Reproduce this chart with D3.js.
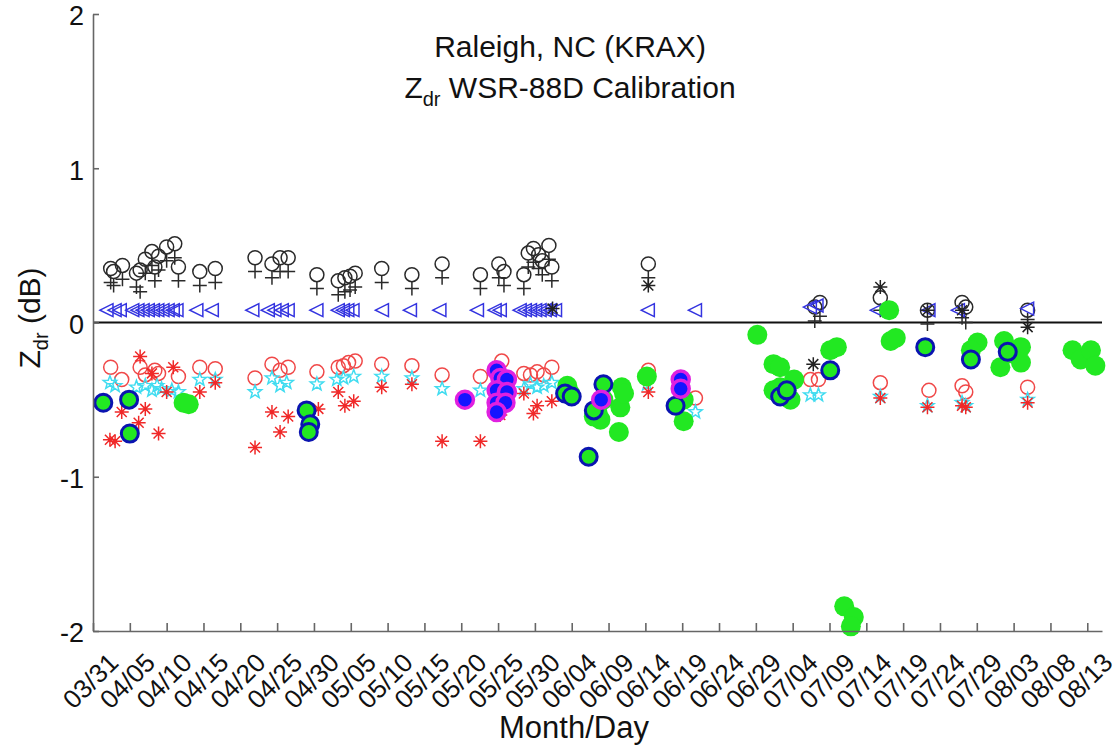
<!DOCTYPE html>
<html lang="en">
<head>
<meta charset="UTF-8">
<title>Raleigh, NC (KRAX) Zdr WSR-88D Calibration</title>
<style>
  body { margin: 0; background: #fff; }
  svg { display: block; font-family: 'Liberation Sans', Arial, sans-serif; }
</style>
<script src="https://d3js.org/d3.v7.min.js"></script>
</head>
<body>
<svg id="chart" width="1118" height="747"></svg>
<script>
// x values are days after 03/31 (fractional = time of day)
var tickDays = [0,5,10,15,20,25,30,35,40,45,50,55,60,65,70,75,80,85,90,95,100,105,110,115,120,125,130,135];
var tickLabels = ['03/31','04/05','04/10','04/15','04/20','04/25','04/30','05/05','05/10','05/15','05/20','05/25','05/30',
                  '06/04','06/09','06/14','06/19','06/24','06/29','07/04','07/09','07/14','07/19','07/24','07/29','08/03','08/08','08/13'];

var blackCircles = [[2.4,0.35],[2.8,0.33],[4.0,0.37],[5.9,0.32],[6.4,0.34],[7.1,0.41],[8.0,0.46],[8.4,0.36],[8.9,0.43],
  [10.0,0.49],[11.1,0.51],[11.6,0.36],[14.5,0.33],[16.6,0.35],[22.0,0.42],[24.3,0.38],[25.4,0.42],[26.5,0.42],
  [30.4,0.31],[33.3,0.27],[34.2,0.29],[34.9,0.30],[35.6,0.32],[39.2,0.35],[43.3,0.31],[47.4,0.38],[52.6,0.31],
  [55.1,0.38],[55.8,0.33],[58.5,0.31],[59.1,0.45],[59.8,0.48],[60.5,0.44],[61.0,0.40],[61.9,0.50],[62.3,0.36],
  [75.4,0.38],[98.0,0.10],[98.7,0.13],[106.9,0.16],[113.3,0.08],[118.0,0.13],[118.5,0.10],[126.9,0.08]];

var blackPlus = [[2.4,0.26],[2.8,0.24],[4.0,0.28],[5.9,0.23],[6.4,0.20],[7.1,0.32],[8.0,0.37],[8.4,0.27],[8.9,0.34],
  [10.0,0.40],[11.1,0.42],[11.6,0.27],[14.5,0.24],[16.6,0.26],[22.0,0.33],[24.3,0.29],[25.4,0.33],[26.5,0.33],
  [30.4,0.22],[33.3,0.18],[34.2,0.20],[34.9,0.21],[35.6,0.23],[39.2,0.26],[43.3,0.22],[47.4,0.29],[52.6,0.22],
  [55.1,0.29],[55.8,0.24],[58.5,0.22],[59.1,0.36],[59.8,0.39],[60.5,0.35],[61.0,0.31],[61.9,0.41],[62.3,0.27],
  [75.4,0.29],[98.0,0.01],[98.7,0.04],[106.9,0.08],[113.3,-0.01],[118.0,0.03],[118.5,0.00],[126.9,0.02]];

var blueTriangles = [[1.9,0.08],[3.0,0.08],[3.7,0.08],[5.4,0.08],[6.1,0.08],[6.8,0.08],[7.5,0.08],[8.2,0.08],[8.8,0.08],
  [9.5,0.08],[10.2,0.08],[10.9,0.08],[11.4,0.08],[14.1,0.08],[16.2,0.08],[21.7,0.08],[23.8,0.08],[24.7,0.08],[25.7,0.08],
  [26.5,0.08],[30.4,0.08],[33.3,0.08],[34.0,0.08],[34.6,0.08],[35.3,0.08],[39.3,0.08],[43.1,0.08],[47.1,0.08],[52.2,0.08],
  [54.6,0.08],[55.3,0.08],[58.0,0.08],[58.7,0.08],[59.4,0.08],[60.1,0.08],[60.7,0.08],[61.4,0.08],[62.1,0.08],[62.8,0.08],
  [75.4,0.08],[81.8,0.08],[97.4,0.10],[98.3,0.11],[106.5,0.08],[113.5,0.08],[117.5,0.08],[126.9,0.09]];

var blackAsterisks = [[62.4,0.09],[75.4,0.24],[97.8,-0.27],[106.9,0.23],[113.3,0.08],[118.0,0.08],[126.9,-0.03]];

var redCircles = [[2.4,-0.29],[3.9,-0.37],[6.4,-0.29],[7.1,-0.34],[8.4,-0.31],[8.9,-0.33],[11.6,-0.35],[14.5,-0.29],
  [16.6,-0.30],[22.0,-0.36],[24.3,-0.27],[25.4,-0.31],[26.5,-0.29],[30.4,-0.32],[33.3,-0.29],[34.0,-0.28],[34.7,-0.26],
  [35.6,-0.25],[39.2,-0.27],[43.3,-0.28],[47.4,-0.34],[52.6,-0.35],[55.5,-0.25],[58.5,-0.33],[59.4,-0.34],[60.3,-0.32],
  [61.2,-0.34],[62.3,-0.29],[75.4,-0.31],[81.8,-0.49],[97.4,-0.37],[98.5,-0.37],[106.9,-0.39],[113.5,-0.44],
  [118.0,-0.41],[118.5,-0.45],[126.9,-0.42]];

var cyanStars = [[2.3,-0.39],[3.0,-0.41],[5.9,-0.42],[7.1,-0.41],[8.0,-0.44],[8.7,-0.41],[9.3,-0.43],[10.7,-0.44],
  [11.6,-0.45],[14.5,-0.37],[16.6,-0.37],[22.0,-0.45],[24.3,-0.36],[25.4,-0.41],[26.3,-0.39],[30.4,-0.40],[33.1,-0.37],
  [34.0,-0.36],[35.4,-0.35],[39.2,-0.35],[43.3,-0.36],[47.4,-0.43],[52.6,-0.44],[55.5,-0.34],[58.5,-0.43],[59.4,-0.40],
  [60.3,-0.42],[61.2,-0.41],[62.3,-0.39],[75.2,-0.40],[81.8,-0.58],[97.4,-0.47],[98.5,-0.47],[106.9,-0.48],
  [113.3,-0.54],[118.0,-0.52],[118.5,-0.54],[126.9,-0.50]];

var redAsterisks = [[2.3,-0.76],[3.0,-0.77],[3.9,-0.58],[6.2,-0.65],[6.4,-0.22],[7.1,-0.56],[8.0,-0.33],[8.9,-0.72],
  [10.0,-0.45],[10.9,-0.29],[14.5,-0.45],[16.6,-0.39],[22.0,-0.81],[24.3,-0.58],[25.4,-0.71],[26.5,-0.61],[30.6,-0.56],
  [33.3,-0.45],[34.2,-0.54],[35.4,-0.51],[39.2,-0.42],[43.3,-0.40],[47.4,-0.77],[52.6,-0.77],[55.3,-0.60],[58.5,-0.46],
  [59.8,-0.59],[60.3,-0.54],[62.3,-0.51],[75.4,-0.45],[106.9,-0.49],[113.3,-0.55],[118.0,-0.54],[118.5,-0.55],[126.9,-0.52]];

var greenDots = [[12.3,-0.52],[13.0,-0.53],[64.4,-0.41],[64.8,-0.46],[68.0,-0.61],[68.5,-0.58],[68.9,-0.63],[69.3,-0.50],
  [71.4,-0.71],[71.6,-0.55],[71.8,-0.42],[72.1,-0.46],[75.2,-0.35],[80.2,-0.50],[80.2,-0.64],[90.2,-0.08],[92.4,-0.27],
  [93.3,-0.29],[95.2,-0.37],[92.4,-0.44],[94.7,-0.50],[93.3,-0.42],[100.1,-0.18],[101.0,-0.16],[102.0,-1.84],
  [103.3,-1.91],[102.9,-1.97],[108.1,0.08],[108.3,-0.12],[109.0,-0.10],[120.1,-0.13],[119.2,-0.18],[123.7,-0.12],
  [126.0,-0.16],[123.2,-0.29],[126.0,-0.26],[124.5,-0.20],[133.0,-0.18],[134.1,-0.24],[135.5,-0.18],[136.1,-0.28]];

var blueRingDots = [[1.4,-0.52],[4.9,-0.50],[5.0,-0.72],[29.0,-0.57],[29.5,-0.66],[29.3,-0.71],[64.1,-0.46],[65.0,-0.48],
  [69.3,-0.40],[68.0,-0.57],[67.3,-0.87],[79.1,-0.54],[93.3,-0.48],[94.2,-0.44],[100.1,-0.31],[113.0,-0.16],
  [119.2,-0.24],[124.2,-0.19]];

var magentaDots = [[50.5,-0.50],[54.8,-0.31],[55.3,-0.36],[56.2,-0.37],[54.8,-0.44],[56.2,-0.45],[54.8,-0.52],[56.0,-0.52],
  [54.8,-0.58],[69.0,-0.50],[79.8,-0.37],[79.8,-0.43]];

var svg = d3.select('#chart');
var plotLeft = 93, plotRight = 1102, plotTop = 14, plotBottom = 631;

var x = d3.scaleLinear().domain([0, 137]).range([plotLeft, plotRight]);
var y = d3.scaleLinear().domain([-2, 2]).range([plotBottom, plotTop]);

// marker shapes (MATLAB style)
var shapes = {
  plus: 'M-7,0H7M0,-7V7',
  triangle: 'M-7,0L6,-6.5L6,6.5Z',
  asterisk: 'M-7,0H7M0,-7V7M-5,-5L5,5M-5,5L5,-5',
  star: (function () {
    var p = [];
    for (var i = 0; i < 10; i++) {
      var r = i % 2 === 0 ? 7 : 2.9;
      var a = -Math.PI / 2 + i * Math.PI / 5;
      p.push((i ? 'L' : 'M') + (r * Math.cos(a)).toFixed(2) + ',' + (r * Math.sin(a)).toFixed(2));
    }
    return p.join('') + 'Z';
  })()
};

function drawPaths(data, d, stroke, width) {
  svg.append('g').selectAll('path').data(data).enter().append('path')
    .attr('transform', p => 'translate(' + x(p[0]) + ',' + y(p[1]) + ')')
    .attr('d', d)
    .attr('fill', 'none')
    .attr('stroke', stroke)
    .attr('stroke-width', width);
}

function drawCircles(data, r, fill, stroke, width) {
  svg.append('g').selectAll('circle').data(data).enter().append('circle')
    .attr('cx', p => x(p[0]))
    .attr('cy', p => y(p[1]))
    .attr('r', r)
    .attr('fill', fill)
    .attr('stroke', stroke)
    .attr('stroke-width', width);
}

// zero line
svg.append('line')
  .attr('x1', plotLeft).attr('x2', plotRight)
  .attr('y1', y(0)).attr('y2', y(0))
  .attr('stroke', '#111').attr('stroke-width', 2.2);

drawCircles(blackCircles, 7, 'none', '#2a2a2a', 1.5);
drawPaths(blackPlus, shapes.plus, '#2a2a2a', 1.5);
drawPaths(blueTriangles, shapes.triangle, '#3434e0', 1.5);
drawPaths(blackAsterisks, shapes.asterisk, '#222', 1.5);
drawCircles(redCircles, 7, 'none', '#f04848', 1.5);
drawPaths(cyanStars, shapes.star, '#40dcf0', 1.5);
drawPaths(redAsterisks, shapes.asterisk, '#f02828', 1.5);
drawCircles(greenDots, 10, '#22e822', 'none', 0);
drawCircles(blueRingDots, 8.5, '#22e822', '#0a14b0', 3);
drawCircles(magentaDots, 8.5, '#1414ff', '#e020e0', 3.5);

// axes
var yAxis = d3.axisLeft(y).tickValues([-2, -1, 0, 1, 2])
  .tickSizeInner(-6).tickSizeOuter(0).tickPadding(9)
  .tickFormat(d3.format('d'));
var gy = svg.append('g').attr('transform', 'translate(' + plotLeft + ',0)').call(yAxis);
gy.select('.domain').attr('stroke', '#666').attr('stroke-width', 1.6);
gy.selectAll('.tick line').attr('stroke', '#666').attr('stroke-width', 1.6);
gy.selectAll('.tick text').style('font-size', '27px').attr('fill', '#111')
  .attr('dy', '0.4em')
  .attr('font-family', "'Liberation Sans', Arial, sans-serif")
  .text(d => d < 0 ? '-' + Math.abs(d) : d);

var xAxis = d3.axisBottom(x).tickValues(tickDays)
  .tickSizeInner(-8).tickSizeOuter(0)
  .tickFormat((d, i) => tickLabels[i]);
var gx = svg.append('g').attr('transform', 'translate(0,' + plotBottom + ')').call(xAxis);
gx.select('.domain').attr('stroke', '#666').attr('stroke-width', 1.6);
gx.selectAll('.tick line').attr('stroke', '#666').attr('stroke-width', 1.6);
gx.selectAll('.tick text')
  .attr('y', 0).attr('dy', null)
  .attr('transform', 'translate(-3,50) rotate(-45)')
  .attr('text-anchor', 'middle')
  .attr('dominant-baseline', 'central')
  .attr('font-family', "'Liberation Sans', Arial, sans-serif")
  .attr('fill', '#111')
  .style('font-size', '26px');

// titles and labels
svg.append('text').attr('x', 570).attr('y', 57)
  .attr('text-anchor', 'middle').style('font-size', '30px').attr('fill', '#111')
  .text('Raleigh, NC (KRAX)');
var title2 = svg.append('text').attr('x', 570).attr('y', 98)
  .attr('text-anchor', 'middle').style('font-size', '30px').attr('fill', '#111');
title2.append('tspan').text('Z');
title2.append('tspan').attr('dy', 8).style('font-size', '20px').text('dr');
title2.append('tspan').attr('dy', -8).text(' WSR-88D Calibration');

var ylab = svg.append('text').attr('transform', 'translate(40,318) rotate(-90)')
  .attr('text-anchor', 'middle').style('font-size', '30px').attr('fill', '#111');
ylab.append('tspan').text('Z');
ylab.append('tspan').attr('dy', 8).style('font-size', '20px').text('dr');
ylab.append('tspan').attr('dy', -8).text(' (dB)');

svg.append('text').attr('x', 574).attr('y', 738)
  .attr('text-anchor', 'middle').style('font-size', '31px').attr('fill', '#111')
  .text('Month/Day');
</script>
</body>
</html>
